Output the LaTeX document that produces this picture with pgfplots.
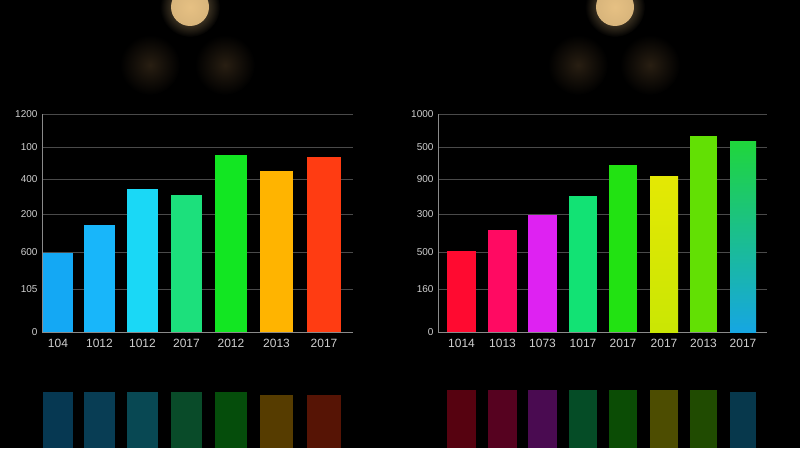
\documentclass[border=0pt]{standalone}
\usepackage{pgfplots}
\pgfplotsset{compat=1.18}
\usepackage{fontspec}
\setmainfont{Liberation Sans}

% left panel colours
\definecolor{La}{HTML}{14A8F4}
\definecolor{Lb}{HTML}{18B6FA}
\definecolor{Lc}{HTML}{1AD8F6}
\definecolor{Ld}{HTML}{1CE07C}
\definecolor{Le}{HTML}{12E622}
\definecolor{Lf}{HTML}{FFB400}
\definecolor{Lg}{HTML}{FF3C12}
% right panel colours
\definecolor{Ra}{HTML}{FF0A30}
\definecolor{Rb}{HTML}{FF0A62}
\definecolor{Rc}{HTML}{DE22F2}
\definecolor{Rd}{HTML}{12E274}
\definecolor{Re}{HTML}{22E212}
\definecolor{Rf}{HTML}{E4E804}
\definecolor{Rg}{HTML}{62E004}
\definecolor{Rh}{HTML}{16A6E2}
\definecolor{gridgray}{HTML}{4A4A4A}
\definecolor{axgray}{HTML}{8A8A8A}
\definecolor{labgray}{HTML}{CFCFCF}
\definecolor{lamp}{RGB}{245,205,140}
\definecolor{glow}{RGB}{40,30,18}

\pgfplotsset{
  panel/.style={
    scale only axis, anchor=south west,
    ymin=0, ymax=218,
    axis lines*=left,
    axis line style={axgray, line width=0.8pt},
    ymajorgrids, grid style={gridgray, line width=0.7pt},
    major tick length=0pt,
    ytick={0,43,80,118,153,185,218},
    yticklabel style={labgray, font=\fontsize{10}{10}\selectfont, xshift=-1pt},
    xticklabel style={labgray, font=\fontsize{12}{12}\selectfont, yshift=-4pt},
  },
  mirror/.style={
    scale only axis, anchor=south west, axis lines=none,
    ymin=0, clip=true,
  },
  bar/.style={ybar, bar shift=0pt, draw=none, fill=#1},
  rbar/.style={ybar, bar shift=0pt, draw=none, fill=#1!45!black, fill opacity=0.75},
}

\begin{document}
\begin{tikzpicture}[x=1pt,y=1pt]
\useasboundingbox (0,0) rectangle (800,448);
\fill[black] (0,0) rectangle (800,448);
% blurred lamps at the top
\begin{scope}
\clip (0,0) rectangle (800,448);
\shade[inner color=lamp!60!black, outer color=black] (190,441) circle (30);
\shade[inner color=lamp!60!black, outer color=black] (615,441) circle (30);
\fill[lamp, opacity=0.85] (190,441) circle (19);
\fill[lamp, opacity=0.85] (615,441) circle (19);
\shade[inner color=glow, outer color=black] (150,383) circle (30);
\shade[inner color=glow, outer color=black] (225,383) circle (30);
\shade[inner color=glow, outer color=black] (578,383) circle (30);
\shade[inner color=glow, outer color=black] (650,383) circle (30);
\end{scope}

% left chart
\begin{axis}[panel, at={(42,116)}, width=311pt, height=218pt,
  xmin=0, xmax=311,
  yticklabels={0,105,600,200,400,100,1200},
  xtick={16,57.5,100.5,144.5,189,234.5,282},
  xticklabels={104,1012,1012,2017,2012,2013,2017}]
\addplot[bar=La, bar width=30] coordinates {(16,79)};
\addplot[bar=Lb, bar width=31] coordinates {(57.5,107)};
\addplot[bar=Lc, bar width=31] coordinates {(100.5,143)};
\addplot[bar=Ld, bar width=31] coordinates {(144.5,137)};
\addplot[bar=Le, bar width=32] coordinates {(189,177)};
\addplot[bar=Lf, bar width=33] coordinates {(234.5,161)};
\addplot[bar=Lg, bar width=34] coordinates {(282,175)};
\end{axis}

% right chart
\begin{axis}[panel, at={(438,116)}, width=329pt, height=218pt,
  xmin=0, xmax=329,
  yticklabels={0,160,500,300,900,500,1000},
  xtick={23.5,64.5,104.5,145,185,226,265.5,305},
  xticklabels={1014,1013,1073,1017,2017,2017,2013,2017}]
\addplot[bar=Ra, bar width=29] coordinates {(23.5,81)};
\addplot[bar=Rb, bar width=29] coordinates {(64.5,102)};
\addplot[bar=Rc, bar width=29] coordinates {(104.5,117)};
\addplot[bar=Rd, bar width=28] coordinates {(145,136)};
\addplot[bar=Re, bar width=28] coordinates {(185,167)};
\addplot[ybar, bar shift=0pt, draw=none, bar width=28, top color=Rf, bottom color=Rf!80!Rg] coordinates {(226,156)};
\addplot[bar=Rg, bar width=27] coordinates {(265.5,196)};
\addplot[ybar, bar shift=0pt, draw=none, bar width=26, top color=Re!80!Rh, bottom color=Rh] coordinates {(305,191)};
\end{axis}

% reflections on the floor
\begin{axis}[mirror, at={(42,0)}, width=311pt, height=56pt, xmin=0, xmax=311, ymax=56]
\addplot[rbar=La, bar width=30] coordinates {(16,56)};
\addplot[rbar=Lb, bar width=31] coordinates {(57.5,56)};
\addplot[rbar=Lc, bar width=31] coordinates {(100.5,56)};
\addplot[rbar=Ld, bar width=31] coordinates {(144.5,56)};
\addplot[rbar=Le, bar width=32] coordinates {(189,56)};
\addplot[rbar=Lf, bar width=33] coordinates {(234.5,53)};
\addplot[rbar=Lg, bar width=34] coordinates {(282,53)};
\end{axis}
\begin{axis}[mirror, at={(438,0)}, width=329pt, height=60pt, xmin=0, xmax=329, ymax=60]
\addplot[rbar=Ra, bar width=29] coordinates {(23.5,58)};
\addplot[rbar=Rb, bar width=29] coordinates {(64.5,58)};
\addplot[rbar=Rc, bar width=29] coordinates {(104.5,58)};
\addplot[rbar=Rd, bar width=28] coordinates {(145,58)};
\addplot[rbar=Re, bar width=28] coordinates {(185,58)};
\addplot[rbar=Rf, bar width=28] coordinates {(226,58)};
\addplot[rbar=Rg, bar width=27] coordinates {(265.5,58)};
\addplot[rbar=Rh, bar width=26] coordinates {(305,56)};
\end{axis}
\end{tikzpicture}
\end{document}
